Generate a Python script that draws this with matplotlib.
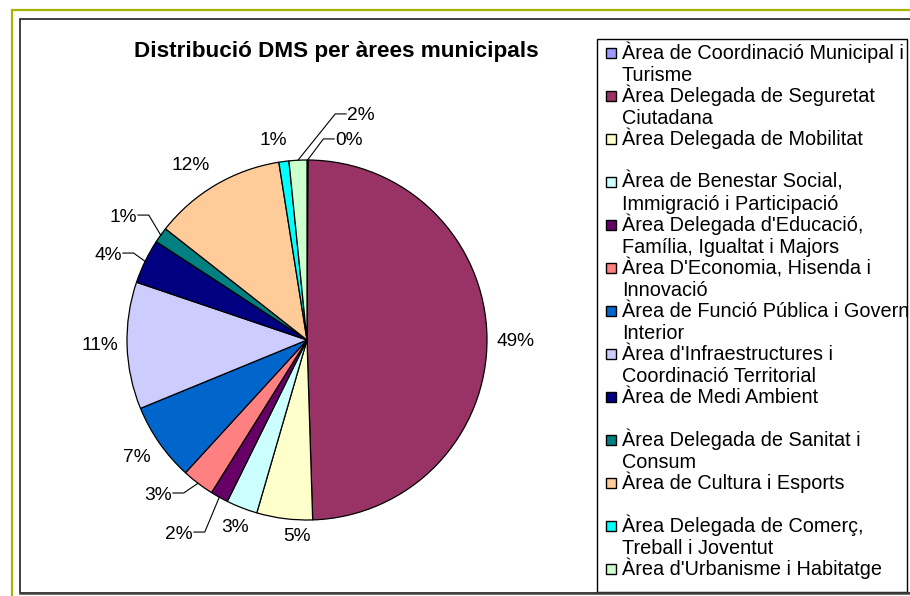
import matplotlib
matplotlib.use("Agg")
import matplotlib.pyplot as plt
from matplotlib.patches import Rectangle
import numpy as np

plt.rcParams['font.family'] = ['Liberation Sans', 'DejaVu Sans']

# ---------------- data ----------------
categories = [
    "Àrea de Coordinació Municipal i Turisme",
    "Àrea Delegada de Seguretat Ciutadana",
    "Àrea Delegada de Mobilitat",
    "Àrea de Benestar Social, Immigració i Participació",
    "Àrea Delegada d'Educació, Família, Igualtat i Majors",
    "Àrea D'Economia, Hisenda i Innovació",
    "Àrea de Funció Pública i Govern Interior",
    "Àrea d'Infraestructures i Coordinació Territorial",
    "Àrea de Medi Ambient",
    "Àrea Delegada de Sanitat i Consum",
    "Àrea de Cultura i Esports",
    "Àrea Delegada de Comerç, Treball i Joventut",
    "Àrea d'Urbanisme i Habitatge",
]
legend_lines = [
    ["Àrea de Coordinació Municipal i", "Turisme"],
    ["Àrea Delegada de Seguretat", "Ciutadana"],
    ["Àrea Delegada de Mobilitat"],
    ["Àrea de Benestar Social,", "Immigració i Participació"],
    ["Àrea Delegada d'Educació,", "Família, Igualtat i Majors"],
    ["Àrea D'Economia, Hisenda i", "Innovació"],
    ["Àrea de Funció Pública i Govern", "Interior"],
    ["Àrea d'Infraestructures i", "Coordinació Territorial"],
    ["Àrea de Medi Ambient"],
    ["Àrea Delegada de Sanitat i", "Consum"],
    ["Àrea de Cultura i Esports"],
    ["Àrea Delegada de Comerç,", "Treball i Joventut"],
    ["Àrea d'Urbanisme i Habitatge"],
]
values = [0.1, 49.4, 5.0, 2.8, 1.6, 2.9, 7.0, 11.4, 4.0, 1.4, 11.9, 0.9, 1.6]
colors = ["#9999FF", "#993366", "#FFFFCC", "#CCFFFF", "#660066", "#FF8080",
          "#0066CC", "#CCCCFF", "#000080", "#008080", "#FFCC99", "#00FFFF",
          "#CCFFCC"]
title = "Distribució DMS per àrees municipals"

# ---------------- layout (label placement, data units of pie radius) ----------------
# (x, y, ha, leader)
label_layout = [
    (0.156, 1.117, 'left', True),
    (1.156, 0.0, 'center', False),
    (-0.056, -1.083, 'center', False),
    (-0.40, -1.033, 'center', False),
    (-0.633, -1.067, 'right', True),
    (-0.75, -0.85, 'right', True),
    (-0.944, -0.639, 'center', False),
    (-1.15, -0.017, 'center', False),
    (-1.028, 0.483, 'right', True),
    (-0.944, 0.694, 'right', True),
    (-0.644, 0.978, 'center', False),
    (-0.189, 1.117, 'center', False),
    (0.222, 1.256, 'left', True),
]

W, H = 910, 596
fig = plt.figure(figsize=(W / 100, H / 100), dpi=100)
fig.patch.set_facecolor('white')


def fx(x):
    return x / W


def fy(y):
    return 1 - y / H


# outer frame (yellow-green) and inner chart frame
fig.patches.append(Rectangle((fx(12), fy(700)), fx(1000), fy(10) - fy(700),
                             transform=fig.transFigure, fill=False,
                             edgecolor='#A8B400', linewidth=1.6))
fig.patches.append(Rectangle((fx(20), fy(593)), fx(1000), fy(19) - fy(593),
                             transform=fig.transFigure, fill=False,
                             edgecolor='#202020', linewidth=1.2))
fig.add_artist(plt.Line2D([fx(20), fx(910)], [fy(593), fy(593)],
                          transform=fig.transFigure, color='#404040', linewidth=1.8))

# ---------------- pie ----------------
cx, cy, R = 307, 340, 180
lim = 1.1
ax = fig.add_axes([fx(cx - R * lim), fy(cy + R * lim),
                   2 * R * lim / W, 2 * R * lim / H])
wedges, _ = ax.pie(values, colors=colors, startangle=90, counterclock=False,
                   wedgeprops=dict(edgecolor='black', linewidth=0.9),
                   radius=1.0)
ax.set_xlim(-lim, lim)
ax.set_ylim(-lim, lim)
ax.set_aspect('equal')
ax.axis('off')

total = sum(values)
for w, v, (lx, ly, ha, leader) in zip(wedges, values, label_layout):
    pct = f"{round(v / total * 100):.0f}%"
    mid = np.deg2rad((w.theta1 + w.theta2) / 2)
    ax.text(lx, ly, pct, ha=ha, va='center_baseline', fontsize=13.8,
            color='black', clip_on=False)
    if leader:
        px, py = np.cos(mid), np.sin(mid)
        sgn = 1 if ha == 'right' else -1
        bx = lx + sgn * 0.065
        ax.plot([px, bx, lx + sgn * 0.005], [py, ly, ly], color='black',
                linewidth=0.8, clip_on=False)

# ---------------- title ----------------
fig.text(fx(336), fy(57), title, ha='center', va='baseline',
         fontsize=16.2, fontweight='bold')

# ---------------- legend ----------------
fig.patches.append(Rectangle((fx(597), fy(592)), fx(907) - fx(597), fy(39) - fy(592),
                             transform=fig.transFigure, fill=False,
                             edgecolor='black', linewidth=1.0))
for i, (lines, c) in enumerate(zip(legend_lines, colors)):
    base = 59 + 43.0 * i
    fig.patches.append(Rectangle((fx(606), fy(base - 1)), fx(10), fy(base - 11) - fy(base - 1),
                                 transform=fig.transFigure, facecolor=c,
                                 edgecolor='black', linewidth=1.0))
    for j, line in enumerate(lines):
        fig.text(fx(622), fy(base + 22 * j), line, ha='left', va='baseline',
                 fontsize=14.3)

fig.savefig("out.png", dpi=100)
